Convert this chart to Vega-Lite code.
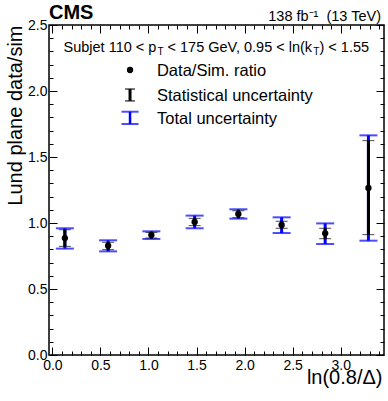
{
  "$schema": "https://vega.github.io/schema/vega-lite/v6.json",
  "autosize": {"type": "none"},
  "padding": {"left": 49, "top": 25, "right": 4, "bottom": 46},
  "width": 335,
  "height": 330,
  "background": "white",
  "config": {
    "view": {"stroke": "black", "strokeWidth": 1.5},
    "font": "Liberation Sans",
    "text": {"font": "Liberation Sans", "fontWeight": "normal"},
    "axis": {"grid": false, "domain": false, "labelFont": "Liberation Sans", "titleFont": "Liberation Sans", "labelColor": "black", "titleColor": "black", "tickColor": "black", "tickWidth": 1}
  },
  "datasets": {
    "pts": [
      {"x": 0.13, "r": 0.886, "slo": 0.823, "shi": 0.949, "tlo": 0.806, "thi": 0.960},
      {"x": 0.58, "r": 0.828, "slo": 0.798, "shi": 0.854, "tlo": 0.785, "thi": 0.869},
      {"x": 1.03, "r": 0.909, "slo": 0.886, "shi": 0.929, "tlo": 0.879, "thi": 0.937},
      {"x": 1.48, "r": 1.008, "slo": 0.980, "shi": 1.035, "tlo": 0.960, "thi": 1.056},
      {"x": 1.935, "r": 1.068, "slo": 1.040, "shi": 1.093, "tlo": 1.033, "thi": 1.104},
      {"x": 2.385, "r": 0.985, "slo": 0.960, "shi": 1.013, "tlo": 0.924, "thi": 1.043},
      {"x": 2.838, "r": 0.922, "slo": 0.881, "shi": 0.960, "tlo": 0.841, "thi": 0.997},
      {"x": 3.288, "r": 1.265, "slo": 0.912, "shi": 1.624, "tlo": 0.866, "thi": 1.664}
    ],
    "one": [{}]
  },
  "data": {"name": "pts"},
  "resolve": {"axis": {"x": "independent", "y": "independent"}},
  "layer": [
    {
      "mark": {"type": "rule", "color": "#0000ff", "strokeWidth": 3},
      "encoding": {
        "x": {"field": "x", "type": "quantitative", "scale": {"domain": [-0.035, 3.45], "nice": false, "zero": false},
          "axis": {"orient": "bottom", "values": [0, 0.5, 1, 1.5, 2, 2.5, 3], "ticks": false, "labelFontSize": 14, "labelPadding": 3, "format": ".1f", "labelFlush": false, "labelOverlap": false,
            "title": "ln(0.8/Δ)", "titleFontSize": 20, "titleFontWeight": "normal", "titleAlign": "right", "titleAnchor": "end", "titleBaseline": "alphabetic", "titleX": 333, "titleY": 28}},
        "y": {"field": "tlo", "type": "quantitative", "scale": {"domain": [0, 2.5], "nice": false, "zero": false},
          "axis": {"orient": "left", "values": [0, 0.5, 1, 1.5, 2, 2.5], "ticks": false, "labelFontSize": 14, "labelPadding": 2, "format": ".1f", "labelFlush": false, "labelOverlap": false,
            "title": "Lund plane data/sim", "titleFontSize": 20, "titleFontWeight": "normal", "titleAngle": -90, "titleAlign": "right", "titleAnchor": "end", "titleBaseline": "alphabetic", "titleX": -28, "titleY": 0}},
        "y2": {"field": "thi"}
      }
    },
    {
      "mark": {"type": "tick", "orient": "horizontal", "size": 18, "thickness": 2, "color": "#0000ff"},
      "encoding": {
        "x": {"field": "x", "type": "quantitative", "scale": {"domain": [-0.035, 3.45], "nice": false, "zero": false},
          "axis": {"orient": "bottom", "values": [0, 0.5, 1, 1.5, 2, 2.5, 3], "tickSize": -8, "labels": false, "title": null}},
        "y": {"field": "thi", "type": "quantitative", "scale": {"domain": [0, 2.5], "nice": false, "zero": false},
          "axis": {"orient": "left", "values": [0, 0.5, 1, 1.5, 2, 2.5], "tickSize": -8, "labels": false, "title": null}}
      }
    },
    {
      "mark": {"type": "tick", "orient": "horizontal", "size": 18, "thickness": 2, "color": "#0000ff"},
      "encoding": {
        "x": {"field": "x", "type": "quantitative", "scale": {"domain": [-0.035, 3.45], "nice": false, "zero": false},
          "axis": {"orient": "bottom", "values": [0.1, 0.2, 0.3, 0.4, 0.6, 0.7, 0.8, 0.9, 1.1, 1.2, 1.3, 1.4, 1.6, 1.7, 1.8, 1.9, 2.1, 2.2, 2.3, 2.4, 2.6, 2.7, 2.8, 2.9, 3.1, 3.2, 3.3, 3.4], "tickSize": -4, "labels": false, "title": null}},
        "y": {"field": "tlo", "type": "quantitative", "scale": {"domain": [0, 2.5], "nice": false, "zero": false},
          "axis": {"orient": "left", "values": [0.1, 0.2, 0.3, 0.4, 0.6, 0.7, 0.8, 0.9, 1.1, 1.2, 1.3, 1.4, 1.6, 1.7, 1.8, 1.9, 2.1, 2.2, 2.3, 2.4], "tickSize": -4, "labels": false, "title": null}}
      }
    },
    {
      "mark": {"type": "rule", "color": "black", "strokeWidth": 3},
      "encoding": {
        "x": {"field": "x", "type": "quantitative",
          "axis": {"orient": "top", "values": [0, 0.5, 1, 1.5, 2, 2.5, 3], "tickSize": -8, "labels": false, "title": null}},
        "y": {"field": "slo", "type": "quantitative",
          "axis": {"orient": "right", "values": [0, 0.5, 1, 1.5, 2, 2.5], "tickSize": -8, "labels": false, "title": null}},
        "y2": {"field": "shi"}
      }
    },
    {
      "mark": {"type": "tick", "orient": "horizontal", "size": 12, "thickness": 1, "color": "black"},
      "encoding": {
        "x": {"field": "x", "type": "quantitative",
          "axis": {"orient": "top", "values": [0.1, 0.2, 0.3, 0.4, 0.6, 0.7, 0.8, 0.9, 1.1, 1.2, 1.3, 1.4, 1.6, 1.7, 1.8, 1.9, 2.1, 2.2, 2.3, 2.4, 2.6, 2.7, 2.8, 2.9, 3.1, 3.2, 3.3, 3.4], "tickSize": -4, "labels": false, "title": null}},
        "y": {"field": "shi", "type": "quantitative",
          "axis": {"orient": "right", "values": [0.1, 0.2, 0.3, 0.4, 0.6, 0.7, 0.8, 0.9, 1.1, 1.2, 1.3, 1.4, 1.6, 1.7, 1.8, 1.9, 2.1, 2.2, 2.3, 2.4], "tickSize": -4, "labels": false, "title": null}}
      }
    },
    {
      "mark": {"type": "tick", "orient": "horizontal", "size": 12, "thickness": 1, "color": "black"},
      "encoding": {
        "x": {"field": "x", "type": "quantitative", "axis": null},
        "y": {"field": "slo", "type": "quantitative", "axis": null}
      }
    },
    {
      "mark": {"type": "circle", "size": 40, "color": "black", "opacity": 1},
      "encoding": {
        "x": {"field": "x", "type": "quantitative", "axis": null},
        "y": {"field": "r", "type": "quantitative", "axis": null}
      }
    },
    {
      "data": {"name": "one"},
      "mark": {"type": "circle", "size": 40, "color": "black", "opacity": 1},
      "encoding": {
        "x": {"datum": 0.808, "type": "quantitative", "axis": null},
        "y": {"datum": 2.159, "type": "quantitative", "axis": null}
      }
    },
    {
      "data": {"name": "one"},
      "mark": {"type": "rule", "color": "black", "strokeWidth": 3},
      "encoding": {
        "x": {"datum": 0.808, "type": "quantitative", "axis": null},
        "y": {"datum": 1.925, "type": "quantitative", "axis": null},
        "y2": {"datum": 2.015}
      }
    },
    {
      "data": {"name": "one"},
      "mark": {"type": "tick", "orient": "horizontal", "size": 10, "thickness": 1.5, "color": "black"},
      "encoding": {
        "x": {"datum": 0.808, "type": "quantitative", "axis": null},
        "y": {"datum": 2.015, "type": "quantitative", "axis": null}
      }
    },
    {
      "data": {"name": "one"},
      "mark": {"type": "tick", "orient": "horizontal", "size": 10, "thickness": 1.5, "color": "black"},
      "encoding": {
        "x": {"datum": 0.808, "type": "quantitative", "axis": null},
        "y": {"datum": 1.925, "type": "quantitative", "axis": null}
      }
    },
    {
      "data": {"name": "one"},
      "mark": {"type": "rule", "color": "#0000ff", "strokeWidth": 2.5},
      "encoding": {
        "x": {"datum": 0.808, "type": "quantitative", "axis": null},
        "y": {"datum": 1.750, "type": "quantitative", "axis": null},
        "y2": {"datum": 1.843}
      }
    },
    {
      "data": {"name": "one"},
      "mark": {"type": "tick", "orient": "horizontal", "size": 17, "thickness": 2, "color": "#0000ff"},
      "encoding": {
        "x": {"datum": 0.808, "type": "quantitative", "axis": null},
        "y": {"datum": 1.843, "type": "quantitative", "axis": null}
      }
    },
    {
      "data": {"name": "one"},
      "mark": {"type": "tick", "orient": "horizontal", "size": 17, "thickness": 2, "color": "#0000ff"},
      "encoding": {
        "x": {"datum": 0.808, "type": "quantitative", "axis": null},
        "y": {"datum": 1.750, "type": "quantitative", "axis": null}
      }
    },
    {
      "data": {"name": "one"},
      "mark": {"type": "text", "align": "left", "baseline": "alphabetic", "fontSize": 16.5, "color": "black"},
      "encoding": {
        "x": {"datum": 1.088, "type": "quantitative", "axis": null},
        "y": {"datum": 2.114, "type": "quantitative", "axis": null},
        "text": {"value": "Data/Sim. ratio"}
      }
    },
    {
      "data": {"name": "one"},
      "mark": {"type": "text", "align": "left", "baseline": "alphabetic", "fontSize": 16.5, "color": "black"},
      "encoding": {
        "x": {"datum": 1.088, "type": "quantitative", "axis": null},
        "y": {"datum": 1.924, "type": "quantitative", "axis": null},
        "text": {"value": "Statistical uncertainty"}
      }
    },
    {
      "data": {"name": "one"},
      "mark": {"type": "text", "align": "left", "baseline": "alphabetic", "fontSize": 16.5, "color": "black"},
      "encoding": {
        "x": {"datum": 1.088, "type": "quantitative", "axis": null},
        "y": {"datum": 1.748, "type": "quantitative", "axis": null},
        "text": {"value": "Total uncertainty"}
      }
    },
    {
      "data": {"name": "one"},
      "mark": {"type": "text", "align": "left", "baseline": "alphabetic", "fontSize": 14.5, "color": "black"},
      "encoding": {
        "x": {"datum": 0.116, "type": "quantitative", "axis": null},
        "y": {"datum": 2.295, "type": "quantitative", "axis": null},
        "text": {"value": "Subjet 110 < p"}
      }
    },
    {
      "data": {"name": "one"},
      "mark": {"type": "text", "align": "left", "baseline": "alphabetic", "fontSize": 10, "color": "black"},
      "encoding": {
        "x": {"datum": 1.093, "type": "quantitative", "axis": null},
        "y": {"datum": 2.272, "type": "quantitative", "axis": null},
        "text": {"value": "T"}
      }
    },
    {
      "data": {"name": "one"},
      "mark": {"type": "text", "align": "left", "baseline": "alphabetic", "fontSize": 14.5, "color": "black"},
      "encoding": {
        "x": {"datum": 1.198, "type": "quantitative", "axis": null},
        "y": {"datum": 2.295, "type": "quantitative", "axis": null},
        "text": {"value": "< 175 GeV, 0.95 < ln(k"}
      }
    },
    {
      "data": {"name": "one"},
      "mark": {"type": "text", "align": "left", "baseline": "alphabetic", "fontSize": 10, "color": "black"},
      "encoding": {
        "x": {"datum": 2.715, "type": "quantitative", "axis": null},
        "y": {"datum": 2.272, "type": "quantitative", "axis": null},
        "text": {"value": "T"}
      }
    },
    {
      "data": {"name": "one"},
      "mark": {"type": "text", "align": "left", "baseline": "alphabetic", "fontSize": 14.5, "color": "black"},
      "encoding": {
        "x": {"datum": 2.779, "type": "quantitative", "axis": null},
        "y": {"datum": 2.295, "type": "quantitative", "axis": null},
        "text": {"value": ") < 1.55"}
      }
    },
    {
      "data": {"name": "one"},
      "mark": {"type": "text", "align": "left", "baseline": "alphabetic", "fontSize": 20, "fontWeight": "bold", "color": "black"},
      "encoding": {
        "x": {"datum": -0.035, "type": "quantitative", "axis": null},
        "y": {"datum": 2.549, "type": "quantitative", "axis": null},
        "text": {"value": "CMS"}
      }
    },
    {
      "data": {"name": "one"},
      "mark": {"type": "text", "align": "right", "baseline": "alphabetic", "fontSize": 14.5, "color": "black"},
      "encoding": {
        "x": {"datum": 3.419, "type": "quantitative", "axis": null},
        "y": {"datum": 2.534, "type": "quantitative", "axis": null},
        "text": {"value": "138 fb⁻¹\u00a0 (13 TeV)"}
      }
    }
  ]
}
